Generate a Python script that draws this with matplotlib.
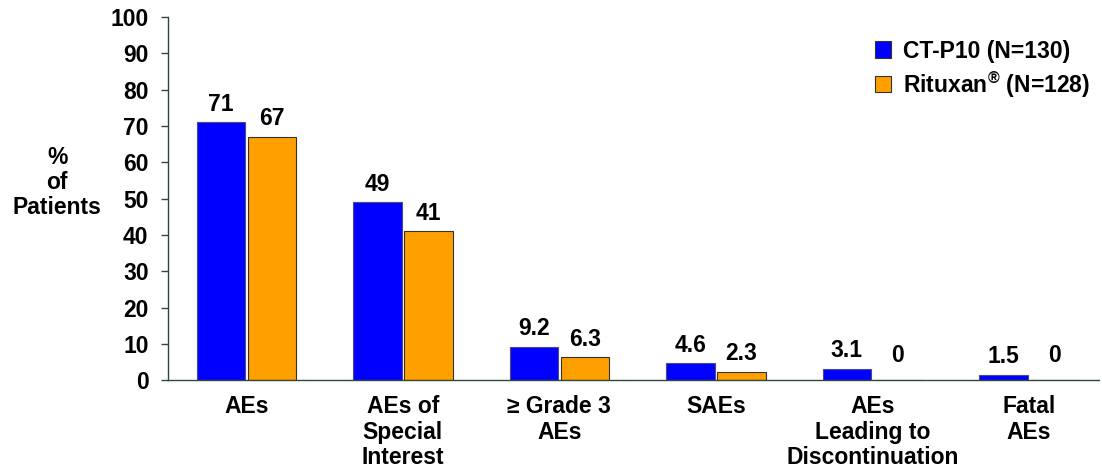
import matplotlib.pyplot as plt
import numpy as np

categories = ['AEs', 'AEs of\nSpecial\nInterest', '\u2265 Grade 3\nAEs', 'SAEs',
              'AEs\nLeading to\nDiscontinuation', 'Fatal\nAEs']
ctp10 = [71, 49, 9.2, 4.6, 3.1, 1.5]
rituxan = [67, 41, 6.3, 2.3, 0, 0]
ctp10_labels = ['71', '49', '9.2', '4.6', '3.1', '1.5']
rituxan_labels = ['67', '41', '6.3', '2.3', '0', '0']
yticks = list(range(0, 101, 10))

plt.rcParams['font.family'] = ['Liberation Sans', 'DejaVu Sans']
plt.rcParams['font.weight'] = 'bold'
plt.rcParams['mathtext.fontset'] = 'custom'
plt.rcParams['mathtext.rm'] = 'Liberation Sans:bold'
plt.rcParams['mathtext.bf'] = 'Liberation Sans:bold'
plt.rcParams['mathtext.default'] = 'rm'
fs = 16.5

axis_col = '#2f4a3a'
fig = plt.figure(figsize=(11.02, 4.74), dpi=100)
ax = fig.add_axes([0.1525, 0.198, 0.845, 0.766])

x = np.arange(len(categories))
w = 0.31
b1 = ax.bar(x - w / 2 - 0.008, ctp10, w, color='#0000ff', edgecolor='#4a4a8a', linewidth=0.8,
            label='CT-P10 (N=130)')
b2 = ax.bar(x + w / 2 + 0.008, rituxan, w, color='#ff9f00', edgecolor='#333333', linewidth=0.8,
            label='Rituxan$^{\u00ae}$ (N=128)')

for bars, labels in [(b1, ctp10_labels), (b2, rituxan_labels)]:
    for rect, lab in zip(bars, labels):
        h = rect.get_height()
        off = 3.6 if h == 0 else 1.8
        ax.text(rect.get_x() + rect.get_width() / 2, h + off, lab,
                ha='center', va='bottom', fontsize=fs, fontweight='bold')

ax.set_xlim(-0.5, len(categories) - 0.55)
ax.set_ylim(0, 100)
ax.set_yticks(yticks)
ax.tick_params(axis='y', labelsize=fs, length=5, color=axis_col, width=1, pad=9)
ax.set_xticks(x)
ax.set_xticklabels(categories, fontsize=fs, fontweight='bold', linespacing=1.14, va='top')
ax.tick_params(axis='x', length=0, pad=11)

for s in ['top', 'right']:
    ax.spines[s].set_visible(False)
for s in ['left', 'bottom']:
    ax.spines[s].set_color(axis_col)
    ax.spines[s].set_linewidth(1)

fig.text(0.052, 0.615, '%\nof\nPatients', ha='center', va='center', fontsize=fs,
         fontweight='bold', linespacing=1.1)

leg = ax.legend(loc='upper right', bbox_to_anchor=(1.012, 0.995), frameon=False, fontsize=fs,
                handlelength=0.7, handleheight=0.7, handletextpad=0.5, labelspacing=0.3)
for p in leg.get_patches():
    p.set_edgecolor('#333333')

fig.savefig('out.png', dpi=100)
